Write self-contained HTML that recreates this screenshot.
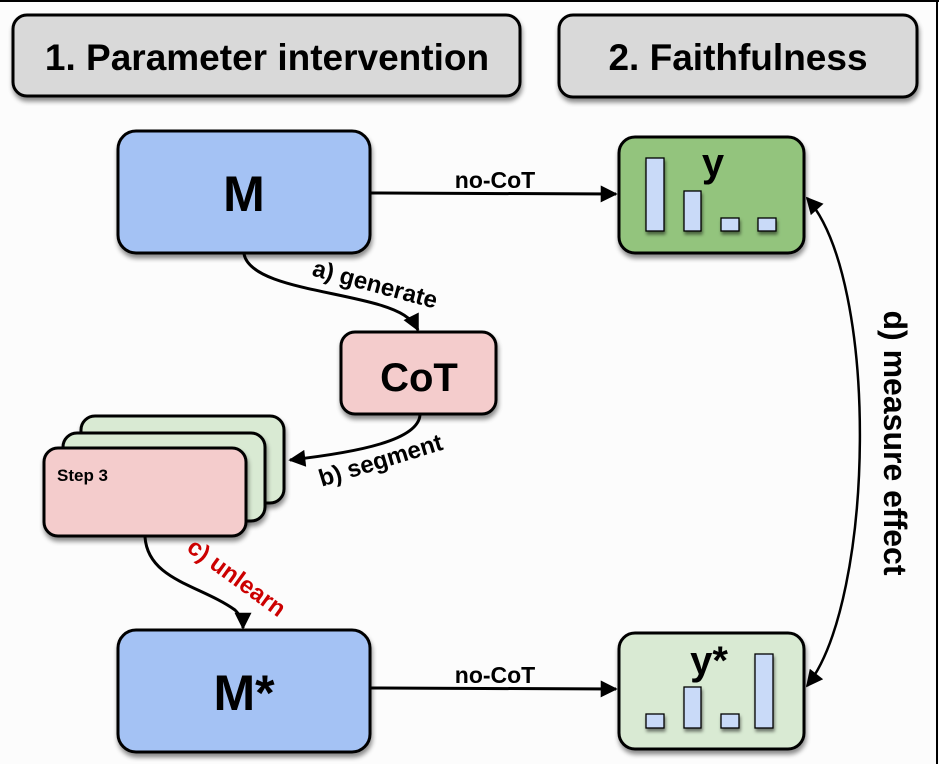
<!DOCTYPE html>
<html><head><style>
html,body{margin:0;padding:0;background:#fcfcfc;}
svg{display:block;font-family:"Liberation Sans",Arial,sans-serif;font-weight:bold;}
</style></head><body>
<svg width="939" height="764" viewBox="0 0 939 764" xmlns="http://www.w3.org/2000/svg">
<defs>
<filter id="sh" x="-10%" y="-10%" width="130%" height="140%"><feDropShadow dx="1" dy="4" stdDeviation="2.5" flood-color="#000" flood-opacity="0.45"/></filter>
<filter id="sh2" x="-20%" y="-20%" width="160%" height="160%"><feDropShadow dx="1" dy="3" stdDeviation="1.5" flood-color="#000" flood-opacity="0.5"/></filter>
<marker id="ar2" viewBox="0 0 10 10" refX="9" refY="5" markerWidth="22" markerHeight="17" markerUnits="userSpaceOnUse" orient="auto-start-reverse"><path d="M0,0L10,5L0,10z" fill="#000"/></marker>
</defs>
<rect width="939" height="764" fill="#fcfcfc"/>
<line x1="0" y1="1" x2="939" y2="1" stroke="#000" stroke-width="2"/>
<line x1="937" y1="0" x2="937" y2="764" stroke="#000" stroke-width="2"/>

<rect x="13" y="15" width="507" height="81" rx="14" fill="#d9d9d9" stroke="#000" stroke-width="3" filter="url(#sh)"/>
<text x="267" y="70" font-size="37" text-anchor="middle">1. Parameter intervention</text>
<rect x="559" y="15" width="358" height="82" rx="14" fill="#d9d9d9" stroke="#000" stroke-width="3" filter="url(#sh)"/>
<text x="738" y="70" font-size="37" text-anchor="middle">2. Faithfulness</text>

<rect x="118" y="131" width="252" height="122" rx="18" fill="#a4c2f4" stroke="#000" stroke-width="3" filter="url(#sh)"/>
<text x="244" y="211" font-size="50" text-anchor="middle">M</text>
<rect x="118" y="630" width="252" height="122" rx="18" fill="#a4c2f4" stroke="#000" stroke-width="3" filter="url(#sh)"/>
<text x="244" y="710" font-size="50" text-anchor="middle">M*</text>

<rect x="341" y="332" width="155" height="82" rx="14" fill="#f4cccc" stroke="#000" stroke-width="3" filter="url(#sh)"/>
<text x="419" y="391" font-size="40" text-anchor="middle">CoT</text>

<rect x="81" y="416" width="203" height="87" rx="14" fill="#d9ead3" stroke="#000" stroke-width="3" filter="url(#sh)"/>
<rect x="63" y="433" width="202" height="88" rx="14" fill="#d9ead3" stroke="#000" stroke-width="3" filter="url(#sh)"/>
<rect x="44" y="448" width="202" height="88" rx="14" fill="#f4cccc" stroke="#000" stroke-width="3" filter="url(#sh)"/>
<text x="57" y="481" font-size="17">Step 3</text>

<rect x="619" y="137" width="185" height="116" rx="16" fill="#93c47d" stroke="#000" stroke-width="3" filter="url(#sh)"/>
<text x="713" y="176" font-size="40" text-anchor="middle">y</text>
<g fill="#c9daf8" stroke="#000" stroke-width="1.3" filter="url(#sh2)">
<rect x="646" y="158" width="18" height="73"/><rect x="684" y="191" width="17" height="40"/>
<rect x="721" y="218" width="18" height="13"/><rect x="758" y="218" width="18" height="13"/>
</g>
<rect x="619" y="633" width="185" height="116" rx="16" fill="#d9ead3" stroke="#000" stroke-width="3" filter="url(#sh)"/>
<text x="709" y="674" font-size="40" text-anchor="middle">y*</text>
<g fill="#c9daf8" stroke="#000" stroke-width="1.3" filter="url(#sh2)">
<rect x="646" y="714" width="18" height="14"/><rect x="684" y="687" width="17" height="41"/>
<rect x="721" y="714" width="18" height="14"/><rect x="755" y="654" width="18" height="74"/>
</g>

<g stroke="#000" stroke-width="3" fill="none">
<line x1="371" y1="193" x2="616" y2="194" marker-end="url(#ar2)"/>
<line x1="371" y1="688" x2="616" y2="689" marker-end="url(#ar2)"/>
<path d="M244,254 C250,285 330,290 380,305 C400,311 412,318 418,330" marker-end="url(#ar2)"/>
<path d="M420,415 C418,440 360,452 290,460" marker-end="url(#ar2)"/>
<path d="M145,537 C148,580 200,585 235,610 C240,615 243,620 243,628" marker-end="url(#ar2)"/>
<path d="M807,198 C880,280 875,600 807,686" stroke-width="2.5" marker-start="url(#ar2)" marker-end="url(#ar2)"/>
</g>
<text x="495" y="188" font-size="23" text-anchor="middle">no-CoT</text>
<text x="495" y="683" font-size="23" text-anchor="middle">no-CoT</text>
<text x="373" y="292" font-size="24" text-anchor="middle" transform="rotate(15 373 292)">a) generate</text>
<text x="383" y="468" font-size="24" text-anchor="middle" transform="rotate(-17 383 468)">b) segment</text>
<text x="232" y="584" font-size="24" fill="#cc0000" text-anchor="middle" transform="rotate(36 232 584)">c) unlearn</text>
<text x="884" y="443" font-size="32" text-anchor="middle" transform="rotate(90 884 443)">d) measure effect</text>
</svg>
</body></html>
